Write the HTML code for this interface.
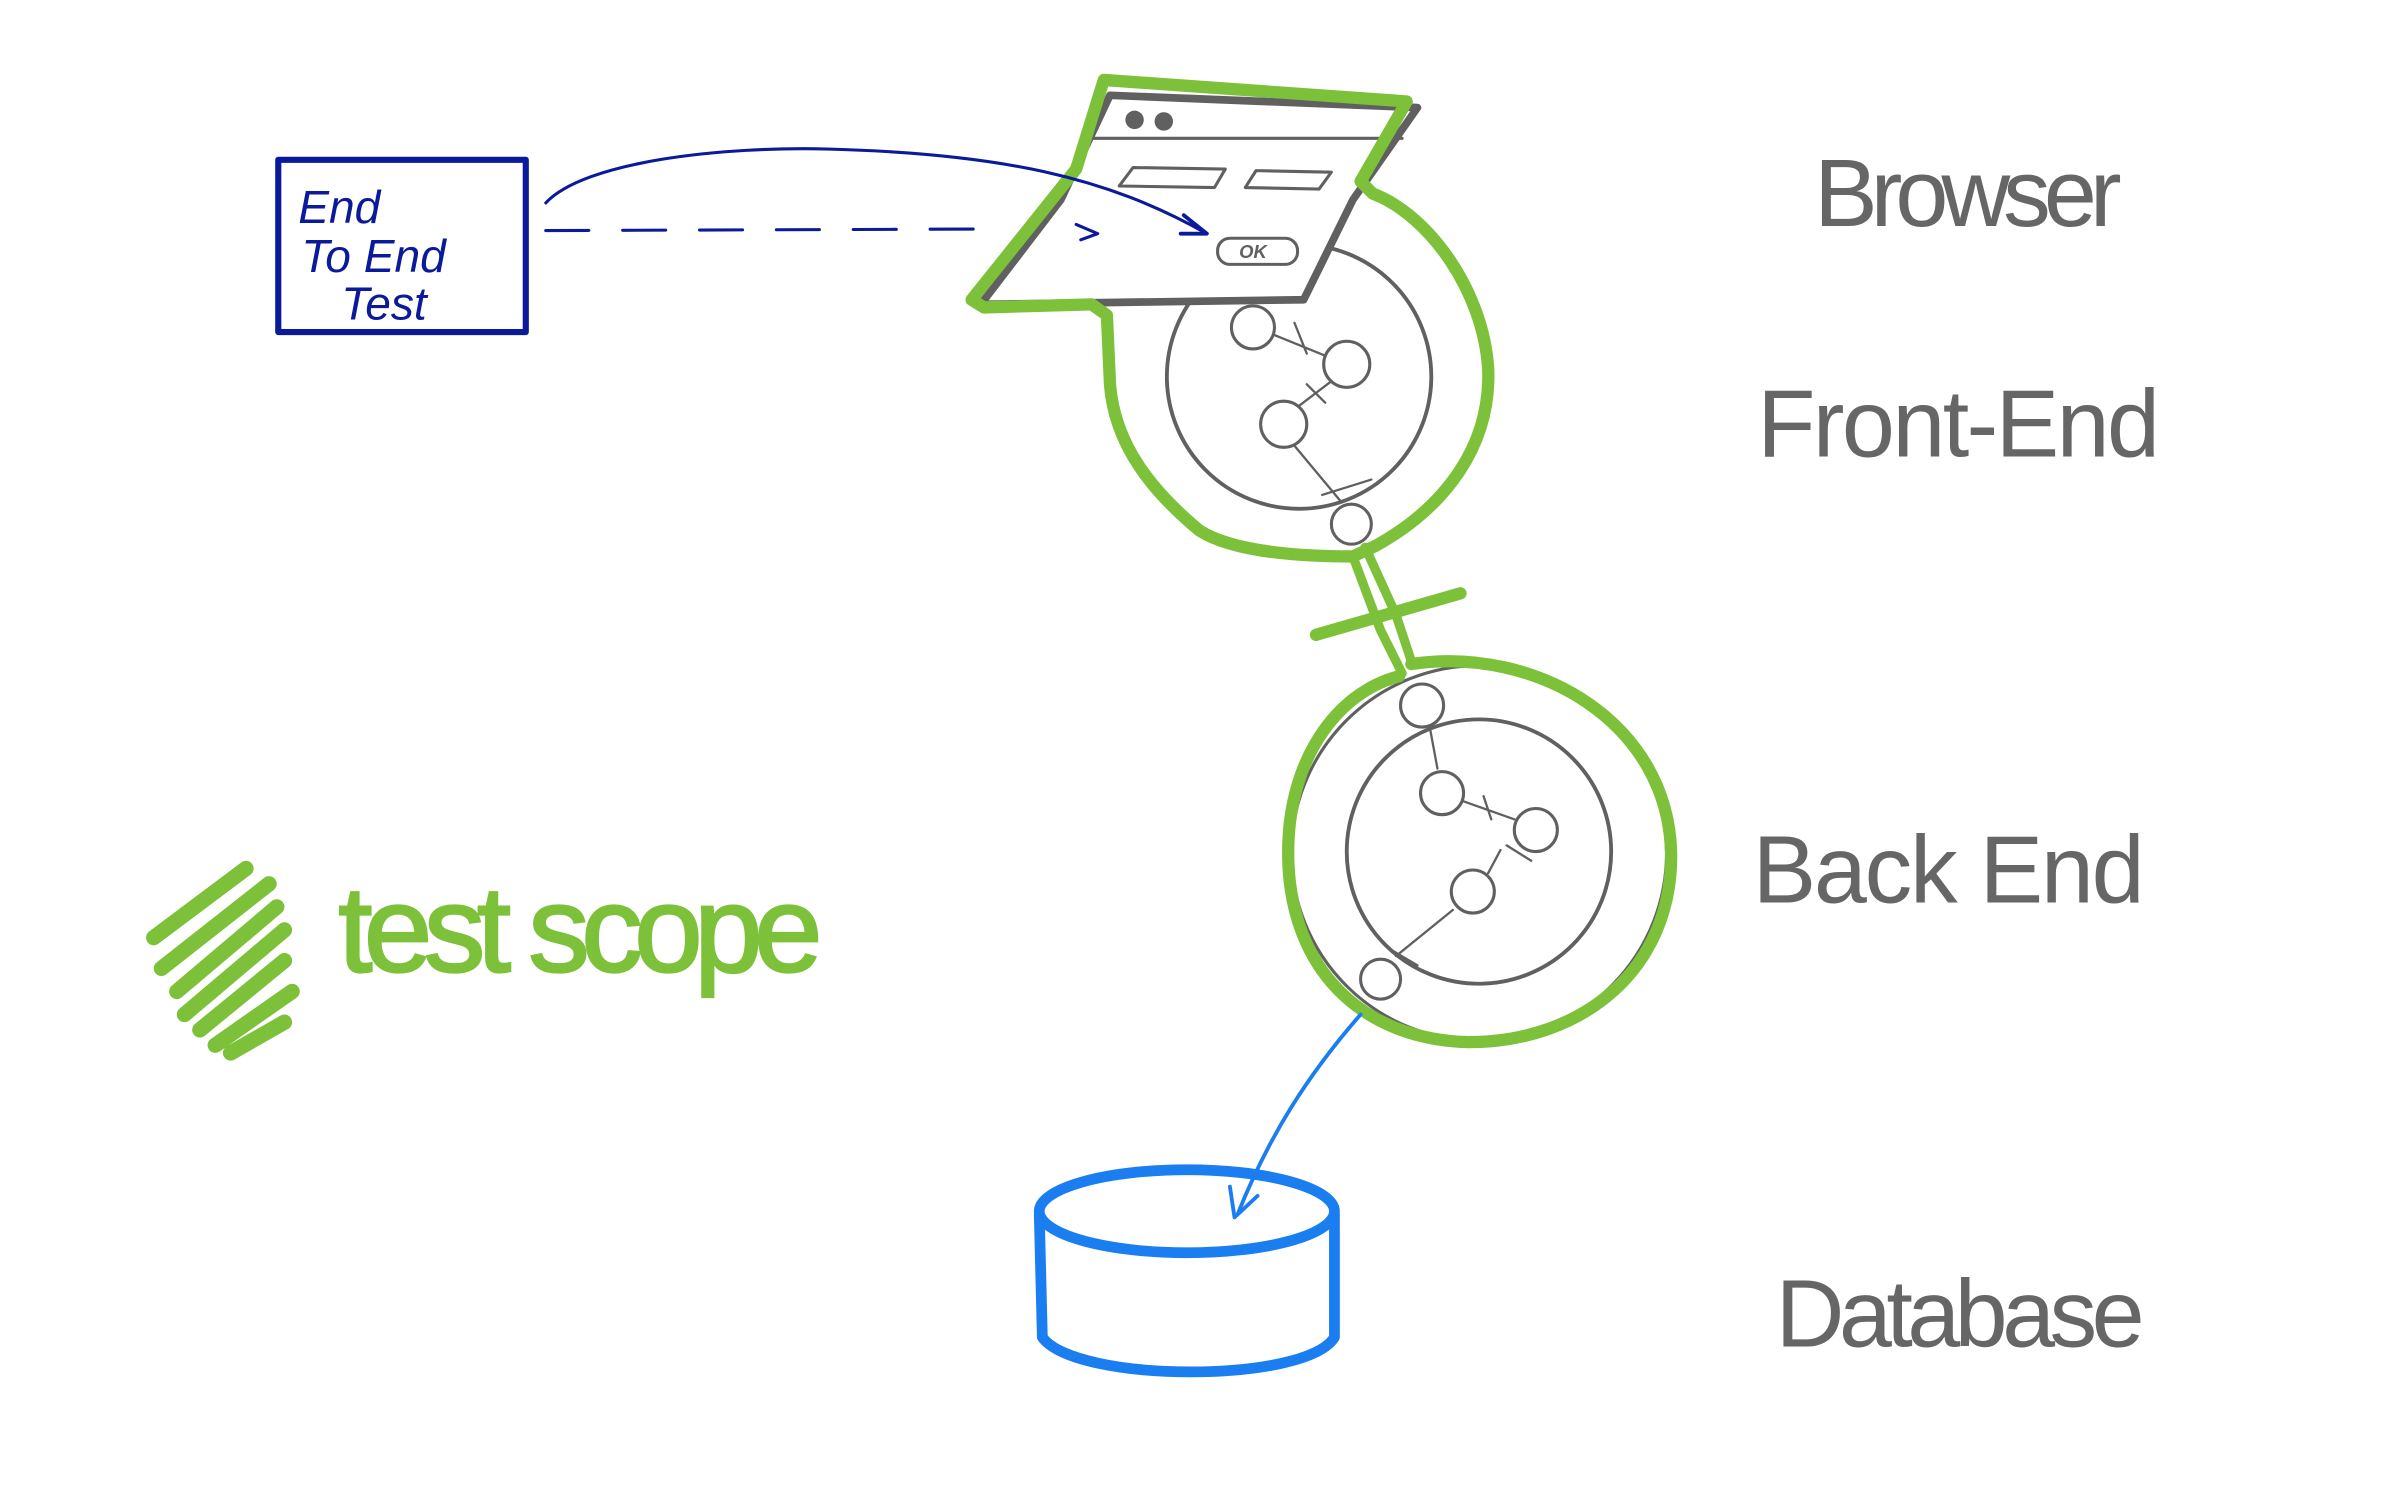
<!DOCTYPE html>
<html><head><style>
html,body{margin:0;padding:0;background:#fff;width:2386px;height:1491px;overflow:hidden}
svg{display:block}
</style></head><body>
<svg width="2386" height="1491" viewBox="0 0 1552 970" preserveAspectRatio="none" xmlns="http://www.w3.org/2000/svg">
<rect width="1552" height="970" fill="#fff"/>
<g fill="none" stroke-linecap="round" stroke-linejoin="round">
<!-- front end gray -->
<circle cx="845" cy="245" r="86" stroke="#606060" stroke-width="2.5"/>
<circle cx="815" cy="213" r="14" stroke="#606060" stroke-width="2" fill="#fff"/>
<circle cx="876" cy="237" r="15" stroke="#606060" stroke-width="2"/>
<circle cx="835" cy="276" r="15" stroke="#606060" stroke-width="2"/>
<circle cx="879" cy="341" r="13" stroke="#606060" stroke-width="2" fill="#fff"/>
<path d="M829,218 L861,231 M842,210 L850,230 M845,264 L866,248 M850,250 L862,262 M842,290 L872,326 M860,322 L892,312" stroke="#606060" stroke-width="1.5"/>
<!-- browser gray -->
<path d="M722,62 L922,70 L880,130 L848,195 L638,198 L690,130 Z" stroke="#606060" stroke-width="5" fill="#fff"/>
<line x1="710" y1="90" x2="912" y2="90" stroke="#606060" stroke-width="2"/>
<circle cx="738" cy="78" r="6" fill="#606060" stroke="none"/>
<circle cx="757" cy="79" r="6" fill="#606060" stroke="none"/>
<path d="M737,109 L797,110 L790,122 L728,121 Z" stroke="#606060" stroke-width="2"/>
<path d="M817,111 L866,112 L858,123 L810,122 Z" stroke="#606060" stroke-width="2"/>
<rect x="792" y="155" width="52" height="17" rx="8" stroke="#606060" stroke-width="2"/>
<text x="806" y="168" font-family="Liberation Sans, sans-serif" font-size="12" font-style="italic" font-weight="bold" fill="#606060" stroke="none">OK</text>
<!-- back end gray -->
<circle cx="962" cy="554" r="86" stroke="#606060" stroke-width="2.5"/>
<circle cx="962" cy="555" r="122" stroke="#606060" stroke-width="2"/>
<circle cx="925" cy="459" r="14" stroke="#606060" stroke-width="2" fill="#fff"/>
<circle cx="938" cy="516" r="14" stroke="#606060" stroke-width="2"/>
<circle cx="999" cy="540" r="14" stroke="#606060" stroke-width="2"/>
<circle cx="958" cy="580" r="14" stroke="#606060" stroke-width="2"/>
<circle cx="898" cy="637" r="13" stroke="#606060" stroke-width="2" fill="#fff"/>
<path d="M930,473 L935,500 M951,521 L985,533 M976,553 L968,568 M945,592 L908,622 M980,550 L996,560 M965,518 L970,533 M905,618 L922,628" stroke="#606060" stroke-width="1.5"/>
<!-- green outlines -->
<path d="M718,52 L915,66 L885,118 L893,126 C930,140 965,190 968,240 C970,290 940,330 895,355 L880,362 C840,362 800,358 780,345 C750,320 725,290 722,250 L720,205 L710,198 L640,200 L632,195 L700,110 Z" stroke="#7dc13a" stroke-width="8"/>
<path d="M880,362 L898,410 L912,438 M888,356 L908,400 L918,430" stroke="#7dc13a" stroke-width="6"/>
<path d="M856,413 L950,386" stroke="#7dc13a" stroke-width="8"/>
<path d="M918,432 C1000,420 1085,470 1087,555 C1088,630 1030,678 955,678 C885,676 840,630 838,560 C836,495 870,450 910,440" stroke="#7dc13a" stroke-width="8"/>
<!-- blue -->
<rect x="181" y="104" width="161" height="112" stroke="#0a1a9a" stroke-width="4"/>
<text font-family="Liberation Sans, sans-serif" font-size="30" fill="#0a1a9a" stroke="none" font-style="italic"><tspan x="194" y="145">End</tspan><tspan x="196" y="177">To End</tspan><tspan x="222" y="208">Test</tspan></text>
<path d="M355,132 C380,105 470,95 540,97 C650,100 720,115 785,152" stroke="#0a1a9a" stroke-width="2"/>
<path d="M770,140 L785,152 L768,152" stroke="#0a1a9a" stroke-width="2.5"/>
<path d="M355,150 L640,149" stroke="#0a1a9a" stroke-width="2" stroke-dasharray="28,22"/>
<path d="M700,146 L714,152 L703,156" stroke="#0a1a9a" stroke-width="2"/>
<path d="M885,660 C850,700 825,740 805,790" stroke="#1a7ef0" stroke-width="2.5"/>
<path d="M800,772 L803,792 L818,778" stroke="#1a7ef0" stroke-width="2.5"/>
<ellipse cx="772" cy="788" rx="96" ry="27" stroke="#1a7ef0" stroke-width="7"/>
<path d="M676,790 L678,870 C700,900 850,900 868,870 L868,790" stroke="#1a7ef0" stroke-width="7"/>
<!-- scribble -->
<path d="M100,610 L160,565 M105,630 L175,575 M115,645 L180,590 M120,660 L185,605 M130,670 L185,625 M140,680 L190,645 M150,685 L185,665" stroke="#7dc13a" stroke-width="10"/>
</g>
<text x="220" y="632" font-family="Liberation Sans, sans-serif" font-size="80" fill="#7dc13a" stroke="#7dc13a" stroke-width="1.5" textLength="315">test scope</text>
<g font-family="Liberation Sans, sans-serif" fill="#666" font-size="62">
<text x="1180" y="147" textLength="200">Browser</text>
<text x="1143" y="297" textLength="262">Front-End</text>
<text x="1140" y="587" textLength="255">Back End</text>
<text x="1155" y="876" textLength="240">Database</text>
</g>
</svg>
</body></html>
